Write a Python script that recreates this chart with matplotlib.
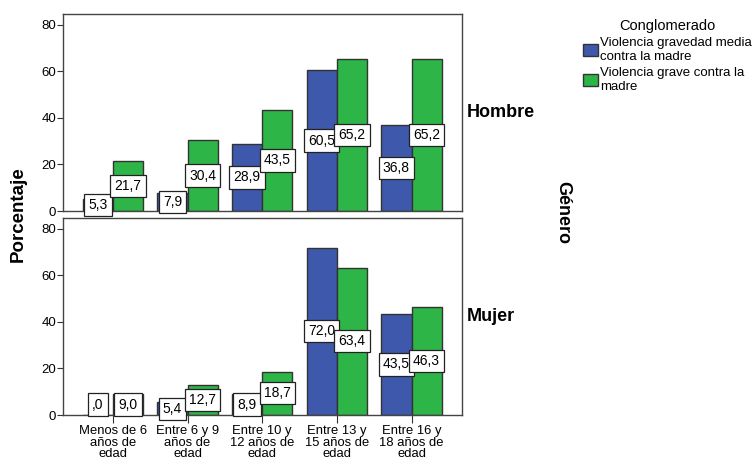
import matplotlib
matplotlib.use("Agg")
import matplotlib.pyplot as plt
import numpy as np
from matplotlib.patches import Patch

categories = ["Menos de 6\naños de\nedad", "Entre 6 y 9\naños de\nedad",
              "Entre 10 y\n12 años de\nedad", "Entre 13 y\n15 años de\nedad",
              "Entre 16 y\n18 años de\nedad"]
series_names = ["Violencia gravedad media\ncontra la madre",
                "Violencia grave contra la\nmadre"]
hombre_media = [5.3, 7.9, 28.9, 60.5, 36.8]
hombre_grave = [21.7, 30.4, 43.5, 65.2, 65.2]
mujer_media = [0.0, 5.4, 8.9, 72.0, 43.5]
mujer_grave = [9.0, 12.7, 18.7, 63.4, 46.3]
panels = ["Hombre", "Mujer"]
yticks = [0, 20, 40, 60, 80]

plt.rcParams['font.family'] = ['Liberation Sans', 'DejaVu Sans']
blue = "#3E58AC"
green = "#2EB548"
edge = "#333333"

fig = plt.figure(figsize=(7.56, 4.63), dpi=100)
ax_top = fig.add_axes([63/756, (463-211)/463, 398.5/756, 197/463])
ax_bot = fig.add_axes([63/756, (463-415)/463, 398.5/756, 197/463])

x = np.arange(len(categories))
w = 0.405

def fmt(v):
    s = f"{v:.1f}".replace(".", ",")
    if s.startswith("0,"):
        s = s[1:]
    return s

for ax, media, grave, name in [(ax_top, hombre_media, hombre_grave, panels[0]),
                                (ax_bot, mujer_media, mujer_grave, panels[1])]:
    ax.bar(x - w/2, media, width=w, color=blue, edgecolor=edge, linewidth=1.0, zorder=2)
    ax.bar(x + w/2, grave, width=w, color=green, edgecolor=edge, linewidth=1.0, zorder=2)
    for xs, vals in [(x - w/2, media), (x + w/2, grave)]:
        for xi, v in zip(xs, vals):
            yy = v / 2 if v > 0 else 4.5
            ax.text(xi, yy, fmt(v), ha="center", va="center", fontsize=10, zorder=5,
                    bbox=dict(boxstyle="square,pad=0.3", facecolor="white",
                              edgecolor="#222222", linewidth=0.9))
    ax.set_xlim(-0.67, 4.67)
    ax.set_ylim(0, 84.7)
    ax.set_yticks(yticks)
    ax.tick_params(axis="y", labelsize=9.5, length=4, width=0.8, color="#333333", pad=1)
    for sp in ax.spines.values():
        sp.set_color("#444444")
        sp.set_linewidth(1.0)
    ax.text(1.012, 0.5, name, transform=ax.transAxes, fontsize=13, fontweight="bold",
            ha="left", va="center")

ax_top.set_xticks([])
ax_bot.set_xticks(x)
ax_bot.set_xticklabels(categories, fontsize=9.4, linespacing=0.9)
ax_bot.tick_params(axis="x", length=6, width=0.8, color="#333333", pad=1.5)

fig.text(18/756, 1 - 214/463, "Porcentaje", rotation=90, fontsize=13.5, fontweight="bold",
         ha="center", va="center")
fig.text(563/756, 1 - 213/463, "Género", rotation=-90, fontsize=13, fontweight="bold",
         ha="center", va="center")

handles = [Patch(facecolor=blue, edgecolor=edge), Patch(facecolor=green, edgecolor=edge)]
leg = fig.legend(handles, series_names, title="Conglomerado", loc="upper left",
                 bbox_to_anchor=(574/756, 1 - 10/463), frameon=False, fontsize=9.5,
                 title_fontsize=10.5, handlelength=1.1, handleheight=1.1,
                 handletextpad=0.2, labelspacing=0.3, borderpad=0.2)

fig.savefig("out.png", dpi=100)
